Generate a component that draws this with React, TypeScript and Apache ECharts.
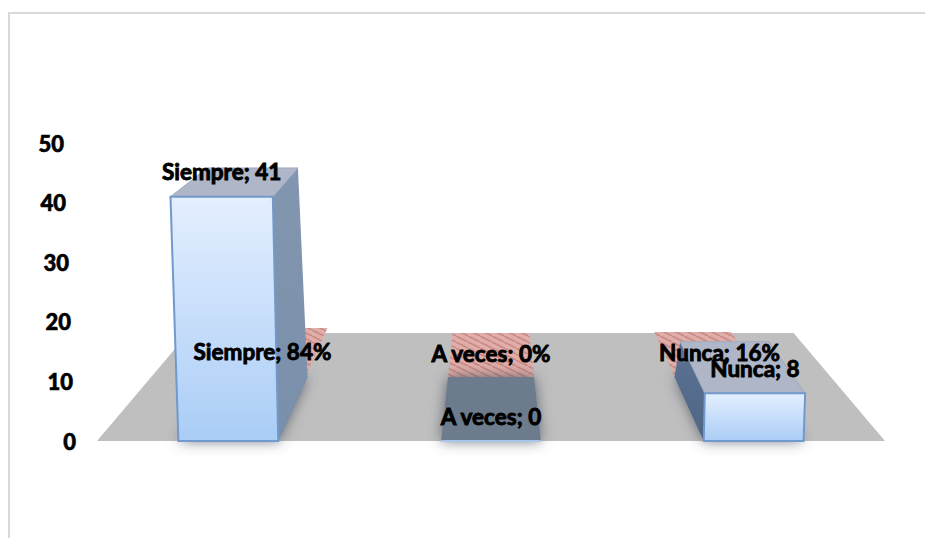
import React, { useEffect, useRef } from "react";
import * as echarts from "echarts";

const categories = ["Siempre", "A veces", "Nunca"];
const countValues = [41, 0, 8];
const percentValues = [84, 0, 16];
const yTicks = [0, 10, 20, 30, 40, 50];

// Extra room to the right of each tick label, so the labels follow the slanted wall
const tickInset: Record<number, number> = { 0: 0, 10: 3, 20: 5, 30: 7, 40: 10, 50: 12 };

const FONT = "Lato, 'Liberation Sans', Arial, sans-serif";
const BAR_SHARE = 0.38;
const FRONT_DEPTH = 64;
const BACK_DEPTH = 108;
const FLOOR_NARROWING = 0.232;
const WALL_LEAN = 0.00062;

type Pt = [number, number];

export default function App() {
  const ref = useRef<HTMLDivElement>(null);

  useEffect(() => {
    const chart = echarts.init(ref.current!, undefined, { renderer: "svg" });

    // Diagonal hatching for the percentage row
    const hatch = document.createElement("canvas");
    hatch.width = 12;
    hatch.height = 6;
    const ctx = hatch.getContext("2d")!;
    ctx.fillStyle = "#e0aeaa";
    ctx.fillRect(0, 0, 12, 6);
    ctx.strokeStyle = "#cc8a85";
    ctx.lineWidth = 1.8;
    for (const dx of [-12, 0, 12]) {
      ctx.beginPath();
      ctx.moveTo(dx, 0);
      ctx.lineTo(dx + 12, 6);
      ctx.stroke();
    }

    // Projects a point on the floor, dy pixels behind the front edge
    const onFloor = (cx: number, x: number, y0: number, dy: number): Pt => {
      const s = 1 - (FLOOR_NARROWING * dy) / BACK_DEPTH;
      return [cx + (x - cx) * s, y0 - dy];
    };
    const centerOf = (p: any) => p.coordSys.x + p.coordSys.width / 2;
    const polygon = (points: Pt[], style: any, extra: any = {}) => ({
      type: "polygon",
      shape: { points },
      style,
      ...extra,
    });

    const renderFloor = (p: any, api: any) => {
      const { x, width } = p.coordSys;
      const y0 = api.coord([0, 0])[1];
      const cx = x + width / 2;
      return polygon(
        [
          [x, y0],
          [x + width, y0],
          onFloor(cx, x + width, y0, BACK_DEPTH),
          onFloor(cx, x, y0, BACK_DEPTH),
        ],
        { fill: "#bfbfbf" },
      );
    };

    const renderPercent = (p: any, api: any) => {
      const cx = centerOf(p);
      const [xc, y0] = api.coord([api.value(0), 0]);
      const half = (api.size([1, 0])[0] * BAR_SHARE) / 2;
      const lift = (api.value(1) / 100) * api.size([0, 1])[1];
      const shift = (q: Pt): Pt => [q[0], q[1] - lift];
      return polygon(
        [
          shift(onFloor(cx, xc - half, y0, FRONT_DEPTH)),
          shift(onFloor(cx, xc + half, y0, FRONT_DEPTH)),
          shift(onFloor(cx, xc + half, y0, BACK_DEPTH)),
          shift(onFloor(cx, xc - half, y0, BACK_DEPTH)),
        ],
        { fill: { image: hatch, repeat: "repeat" } as any },
      );
    };

    const renderCount = (p: any, api: any) => {
      const cx = centerOf(p);
      const v = api.value(1);
      const [xc, y0] = api.coord([api.value(0), 0]);
      const yTop = api.coord([api.value(0), v])[1];
      const half = (api.size([1, 0])[0] * BAR_SHARE) / 2;
      const lean = (x: number) => x + (x - cx) * WALL_LEAN * v;
      const bl: Pt = [xc - half, y0];
      const br: Pt = [xc + half, y0];
      const tl: Pt = [lean(xc - half), yTop];
      const tr: Pt = [lean(xc + half), yTop];
      const depth = FRONT_DEPTH / (1 + 0.03 * v);
      const backTop = (q: Pt): Pt => [q[0] + (cx - q[0]) * 0.115, q[1] - depth];
      const backL = onFloor(cx, xc - half, y0, FRONT_DEPTH);
      const backR = onFloor(cx, xc + half, y0, FRONT_DEPTH);
      const onLeft = xc < cx;
      const empty = v === 0;
      const children: any[] = [];
      // Soft shadow cast on the floor by the footprint
      children.push(
        polygon([bl, br, backR, backL], {
          fill: "#6d7b8c",
          shadowBlur: 14,
          shadowColor: "rgba(70,80,95,0.8)",
        }),
      );
      if (!empty) {
        const side = onLeft
          ? [br, backR, backTop(tr), tr]
          : [bl, backL, backTop(tl), tl];
        children.push(
          polygon(side as Pt[], {
            fill: new echarts.graphic.LinearGradient(0, 0, 0, 1, [
              { offset: 0, color: onLeft ? "#8396b0" : "#5d7394" },
              { offset: 1, color: onLeft ? "#7a8faa" : "#4f6585" },
            ]),
          }),
        );
        children.push(
          polygon([tl, tr, backTop(tr), backTop(tl)], {
            fill: "#aeb6c8",
            stroke: "#a0abbf",
            lineWidth: 1,
          }),
        );
        children.push(
          polygon([bl, br, tr, tl], {
            fill: new echarts.graphic.LinearGradient(0, 0, 0, 1, [
              { offset: 0, color: "#e4efff" },
              { offset: 1, color: "#aacdf6" },
            ]),
            stroke: "#7199cb",
            lineWidth: 2,
          }),
        );
      } else {
        children.push({
          type: "line",
          shape: { x1: bl[0], y1: y0, x2: br[0], y2: y0 },
          style: { stroke: "#a9c5ea", lineWidth: 2 },
        });
      }
      return { type: "group", children };
    };

    const textStyle = (text: string, x: number, y: number) => ({
      type: "text",
      style: {
        text,
        x,
        y,
        fill: "#000",
        stroke: "#000",
        lineWidth: 0.9,
        font: `bold 22.5px ${FONT}`,
        align: "center",
        verticalAlign: "middle",
      },
    });

    const renderCountLabel = (p: any, api: any) => {
      const i = api.value(0);
      const v = api.value(1);
      const cx = centerOf(p);
      const [xc] = api.coord([i, 0]);
      const yTop = api.coord([i, v])[1];
      const x = xc + (xc - cx) * WALL_LEAN * v;
      return textStyle(`${categories[i]}; ${v}`, x, yTop - 25);
    };

    const renderPercentLabel = (p: any, api: any) => {
      const i = api.value(0);
      const cx = centerOf(p);
      const [xc, y0] = api.coord([i, 0]);
      const x = cx + (xc - cx) * 0.87;
      const y = y0 - 88 - (api.value(1) / 100) * 2;
      return textStyle(`${categories[i]}; ${api.value(1)}%`, x, y);
    };

    const pairs = (vals: number[]) => vals.map((v, i) => [i, v]);

    const custom = (renderItem: any, data: any[], z: number) => ({
      type: "custom",
      renderItem,
      data,
      z,
      clip: false,
      encode: { x: 0, y: 1 },
      silent: true,
    });

    chart.setOption({
      animation: false,
      backgroundColor: "#ffffff",
      grid: { left: 97, right: 40, top: 143, bottom: 97 },
      xAxis: {
        type: "category",
        data: categories,
        axisLabel: { show: false },
        axisTick: { show: false },
        axisLine: { show: false },
      },
      yAxis: {
        type: "value",
        min: 0,
        max: 50,
        interval: 10,
        splitLine: { show: false },
        axisLine: { show: false },
        axisTick: { show: false },
        axisLabel: {
          margin: 21,
          formatter: (v: number) => `{t${v}|${v}}`,
          rich: Object.fromEntries(
            yTicks.map((t) => [
              `t${t}`,
              {
                fontFamily: FONT,
                fontWeight: 900,
                fontSize: 22,
                color: "#000",
                textBorderColor: "#000",
                textBorderWidth: 0.6,
                padding: [0, tickInset[t], 0, 0],
              },
            ]),
          ),
        },
      },
      graphic: [
        {
          type: "polyline",
          shape: { points: [[9, 538], [9, 13], [925, 13]] },
          style: { stroke: "#d9d9d9", lineWidth: 2, fill: "none" },
          z: 0,
        },
      ],
      series: [
        custom(renderFloor, [[0, 0]], 1),
        custom(renderPercent, pairs(percentValues), 2),
        custom(renderCount, pairs(countValues), 3),
        custom(renderPercentLabel, pairs(percentValues), 4),
        custom(renderCountLabel, pairs(countValues), 5),
      ],
    });

    return () => chart.dispose();
  }, []);

  return (
    <div
      ref={ref}
      style={{ position: "fixed", left: 0, top: 0, width: 925, height: 538 }}
    />
  );
}
